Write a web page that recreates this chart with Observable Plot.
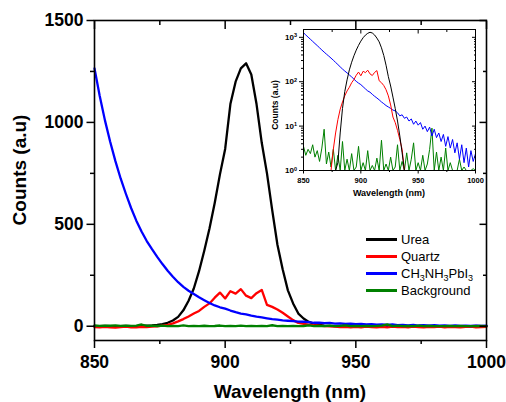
<!DOCTYPE html>
<html><head><meta charset="utf-8">
<script src="https://cdn.jsdelivr.net/npm/d3@7"></script>
<script src="https://cdn.jsdelivr.net/npm/@observablehq/plot@0.6"></script>
<style>
body{margin:0;background:#fff;}
#chart{position:relative;width:506px;height:402px;overflow:hidden;font-family:'Liberation Sans',Arial,Helvetica,sans-serif;}
#inset{position:absolute;left:262px;top:22px;}
#legend{position:absolute;left:366px;top:231px;font-size:13px;color:#000;}
.row{height:17px;display:flex;align-items:center;white-space:nowrap;}
.sw{width:31px;height:2.5px;margin-right:4px;}
sub{font-size:9px;vertical-align:-3px;line-height:0;}
</style></head>
<body><div id="chart"></div>
<script>
const FONT = "'Liberation Sans', Arial, Helvetica, sans-serif";

// ---- data ----
const wavelength = [850,852,854,856,858,860,862,864,866,868,870,872,874,876,878,880,882,884,886,888,
  890,892,894,896,898,900,902,904,906,908,910,912,914,916,918,920,922,924,926,928,
  930,932,934,936,938,940,942,944,946,948,950,952,954,956,958,960,962,964,966,968,
  970,972,974,976,978,980,982,984,986,988,990,992,994,996,998,1000];

const urea = [1,0,2,1,0,1,2,1,0,2,
  3,4,6,10,17,28,46,78,125,185,
  270,370,480,605,745,870,1090,1200,1265,1290,
  1235,1090,900,750,570,400,280,176,112,62,
  38,21,12,6,3,2,1,2,0,1,
  1,0,2,1,0,1,1,0,2,1,
  0,1,1,0,2,1,0,1,1,0,
  1,0,1,2,0,1];

const quartz = [-4,-6,-3,-5,-7,-4,-2,-5,-6,-3,
  -4,-2,-1,3,7,14,24,35,48,62,
  75,95,112,140,165,136,172,160,182,150,
  138,162,178,105,95,82,66,48,30,16,
  12,8,5,3,1,0,-2,-4,-3,-5,
  -3,-6,-2,-4,-5,-3,-6,-2,-4,-3,
  -5,-2,-4,-6,-3,-4,-2,-5,-3,-4,
  -6,-3,-2,-5,-4,-3];

const perovskite = [1265,1130,1010,905,810,725,650,580,518,465,
  418,378,340,305,272,243,216,193,174,158,
  142,128,114,102,93,86,77,69,62,58,
  52,47,43,39,35,32,29,27,25,23,
  22,20,17,18,15,16,13,14.5,11,13,
  10.5,12,8.5,10,7.5,9.5,6,8.5,5.5,7,
  4.5,6.5,3.5,5.8,3.2,5,2.5,4.2,1.8,3.8,
  1.5,3.2,1.2,2.8,1.6,2.4];

const background = [3.5,2.2,3.0,2.4,3.8,2.0,2.8,1.6,3.2,8.5,
  1.4,2.6,1.2,3.0,0.6,2.2,1.0,4.5,0.5,1.8,
  0.7,2.4,0.5,1.2,3.5,0.6,1.5,0.5,2.8,0.8,
  1.3,0.5,1.9,0.6,4.8,0.7,1.4,0.5,2.0,0.6,
  1.2,3.8,0.5,1.6,0.7,2.5,0.5,1.8,4.2,0.6,
  1.5,0.5,2.2,0.8,1.4,3.0,9.0,0.5,2.6,1.0,
  2.0,0.5,3.2,0.7,1.5,0.5,1.0,0.5,1.8,0.5,
  1.2,0.6,0.8,0.5,1.1,0.5];

// inset: smooth Urea curve (log scale)
const insetWavelength = [878,880,882,884,886,888,890,892,894,896,898,900,902,904,906,908,910,
  912,914,916,918,920,922,924,926,928,930,932,934,936,938,940];
const insetUrea = [0.4,1.5,7,25,60,110,185,275,385,515,660,820,980,1120,1230,1300,1250,
  1130,960,790,580,390,235,130,80,45,25,13,6,2.5,1.0,0.4];

const seriesNames = ["Urea","Quartz","CH3NH3PbI3","Background"];
const seriesColors = ["#000000","#ff0000","#0000ff","#008000"];
const seriesValues = [urea, quartz, perovskite, background];

const xMajor = [850,900,950,1000];
const xMinor = [875,925,975];
const yMajor = [0,500,1000,1500];
const yMinor = [250,750,1250];
const logMajor = [1,10,100,1000];
const logMinor = [2,3,4,5,6,7,8,9,20,30,40,50,60,70,80,90,200,300,400,500,600,700,800,900];
const logExp = {"1":"0","10":"1","100":"2","1000":"3"};
const plain = d => String(d);

// ---- main chart ----
const rows = seriesValues.map(vals => wavelength.map((w,i)=>({w, v: vals[i]})));

const main = Plot.plot({
  width: 506, height: 402,
  marginLeft: 94, marginRight: 20, marginTop: 20, marginBottom: 62,
  style: {fontFamily: FONT, fontSize: "17.5px", fontWeight: "bold", color: "#000", background: "transparent", overflow: "visible"},
  x: {domain: [850,1000]},
  y: {domain: [-70,1500]},
  marks: [
    Plot.line(rows[0], {x:"w", y:"v", stroke: seriesColors[0], strokeWidth: 2.3}),
    Plot.line(rows[1], {x:"w", y:"v", stroke: seriesColors[1], strokeWidth: 2.3}),
    Plot.line(rows[2], {x:"w", y:"v", stroke: seriesColors[2], strokeWidth: 2.3}),
    Plot.line(rows[3], {x:"w", y:"v", stroke: seriesColors[3], strokeWidth: 2.3}),
    Plot.axisX(xMajor, {anchor:"bottom", tickSize: 8, tickPadding: 7, label: null, strokeWidth: 1.5, tickFormat: plain}),
    Plot.axisX(xMinor, {anchor:"bottom", tickSize: 4, text: null, label: null, strokeWidth: 1.5}),
    Plot.axisX(xMajor, {anchor:"top", tickSize: 8, dy: 8, text: null, label: null, strokeWidth: 1.5}),
    Plot.axisX(xMinor, {anchor:"top", tickSize: 4, dy: 4, text: null, label: null, strokeWidth: 1.5}),
    Plot.axisY(yMajor, {anchor:"left", tickSize: 7.5, tickPadding: 3.5, label: null, strokeWidth: 1.5, tickFormat: plain}),
    Plot.axisY(yMinor, {anchor:"left", tickSize: 4, text: null, label: null, strokeWidth: 1.5}),
    Plot.axisY(yMajor, {anchor:"right", tickSize: 7.5, dx: -7.5, text: null, label: null, strokeWidth: 1.5}),
    Plot.axisY(yMinor, {anchor:"right", tickSize: 4, dx: -4, text: null, label: null, strokeWidth: 1.5}),
    Plot.frame({stroke: "#000", strokeWidth: 1.6})
  ]
});
document.getElementById("chart").appendChild(main);
const ms = d3.select(main);
ms.append("text").attr("x", 290).attr("y", 398).attr("text-anchor","middle")
  .style("font-size","19px").style("font-weight","bold").attr("fill","#000").text("Wavelength (nm)");
ms.append("text").attr("transform","translate(26,170) rotate(-90)").attr("text-anchor","middle")
  .style("font-size","19px").style("font-weight","bold").attr("fill","#000").text("Counts (a.u)");

// ---- inset ----
const irows = [
  insetWavelength.map((w,i)=>({w, v: insetUrea[i]})),
  wavelength.map((w,i)=>({w, v: quartz[i] > 0 ? quartz[i] : 0.5})),
  wavelength.map((w,i)=>({w, v: perovskite[i]})),
  wavelength.map((w,i)=>({w, v: background[i]}))
];
const inset = Plot.plot({
  width: 226, height: 178,
  marginLeft: 41, marginRight: 13, marginTop: 7, marginBottom: 30,
  style: {fontFamily: FONT, fontSize: "7.5px", fontWeight: "bold", color: "#000", background: "transparent", overflow: "visible"},
  x: {domain: [850,1000]},
  y: {type: "log", domain: [1,1500], clamp: true},
  marks: [
    Plot.line(irows[3], {x:"w", y:"v", stroke: seriesColors[3], strokeWidth: 1}),
    Plot.line(irows[2], {x:"w", y:"v", stroke: seriesColors[2], strokeWidth: 1}),
    Plot.line(irows[1], {x:"w", y:"v", stroke: seriesColors[1], strokeWidth: 1}),
    Plot.line(irows[0], {x:"w", y:"v", stroke: seriesColors[0], strokeWidth: 1}),
    Plot.axisX(xMajor, {anchor:"bottom", tickSize: 3.5, tickPadding: 4, label: null, tickFormat: plain}),
    Plot.axisX(xMinor, {anchor:"bottom", tickSize: 2, text: null, label: null}),
    Plot.axisX(xMajor, {anchor:"top", tickSize: 3.5, dy: 3.5, text: null, label: null}),
    Plot.axisX(xMinor, {anchor:"top", tickSize: 2, dy: 2, text: null, label: null}),
    Plot.axisY(logMajor, {anchor:"left", tickSize: 4, tickPadding: 2.5, label: null, fontSize: 8, tickFormat: d => "10^" + logExp[String(d)]}),
    Plot.axisY(logMinor, {anchor:"left", tickSize: 2, text: null, label: null}),
    Plot.axisY(logMajor, {anchor:"right", tickSize: 4, dx: -4, text: null, label: null}),
    Plot.axisY(logMinor, {anchor:"right", tickSize: 2, dx: -2, text: null, label: null}),
    Plot.frame({stroke: "#000", strokeWidth: 1})
  ]
});
inset.id = "inset";
document.getElementById("chart").appendChild(inset);
const is = d3.select(inset);
// turn "10^n" tick labels into 10 with a raised exponent
is.selectAll("text").each(function() {
  const t = this.textContent;
  const m = /^10\^(\d)$/.exec(t);
  if (!m) return;
  const el = d3.select(this);
  el.text("10");
  el.append("tspan").attr("dy", "-0.45em").style("font-size", "5.5px").text(m[1]);
});
is.append("text").attr("x", 41 + (226-41-13)/2).attr("y", 174).attr("text-anchor","middle")
  .style("font-size","9px").style("font-weight","bold").attr("fill","#000").text("Wavelength (nm)");
is.append("text").attr("transform","translate(16,83) rotate(-90)").attr("text-anchor","middle")
  .style("font-size","8.5px").style("font-weight","bold").attr("fill","#000").text("Counts (a.u)");

// ---- legend ----
const legend = d3.select("#chart").append("div").attr("id","legend");
seriesNames.forEach((name, i) => {
  const row = legend.append("div").attr("class","row");
  row.append("div").attr("class","sw").style("background", seriesColors[i]);
  row.append("span").html(name.replace(/(\d)/g, "<sub>$1</sub>"));
});
</script>
</body></html>
